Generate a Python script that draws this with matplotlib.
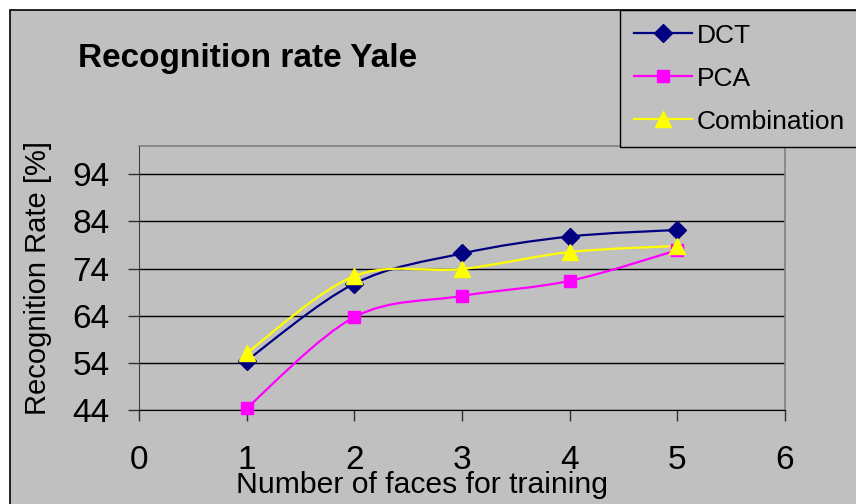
import matplotlib
matplotlib.use("Agg")
import matplotlib.pyplot as plt
from matplotlib.path import Path
from matplotlib.patches import PathPatch, Rectangle
from matplotlib.lines import Line2D
import numpy as np

plt.rcParams['font.family'] = ['Liberation Sans', 'DejaVu Sans']

# Recognition rates (%) by number of training faces
faces = [1, 2, 3, 4, 5]
dct = [54.5, 70.8, 77.2, 80.8, 82.2]
pca = [44.4, 63.7, 68.2, 71.4, 77.9]
combination = [56.1, 72.4, 73.9, 77.5, 78.8]
series_names = ["DCT", "PCA", "Combination"]
y_ticks = [44, 54, 64, 74, 84, 94]
x_ticks = [0, 1, 2, 3, 4, 5, 6]

GRAY = '#C0C0C0'


def smooth_path(xs, ys):
    """Bezier path through the points, spreadsheet-style smoothed line."""
    pts = np.column_stack([xs, ys]).astype(float)
    n = len(pts)
    verts = [pts[0]]
    codes = [Path.MOVETO]
    for i in range(n - 1):
        p0 = pts[i - 1] if i > 0 else pts[i]
        p1 = pts[i]
        p2 = pts[i + 1]
        p3 = pts[i + 2] if i + 2 < n else pts[i + 1]
        verts += [p1 + (p2 - p0) / 6, p2 - (p3 - p1) / 6, p2]
        codes += [Path.CURVE4] * 3
    return Path(verts, codes)


fig = plt.figure(figsize=(8.56, 5.04), dpi=100, facecolor='white')

# chart area
fig.patches.append(Rectangle((10 / 856, -0.05), 1.0, 1 - 10 / 504 + 0.05,
                             transform=fig.transFigure, facecolor=GRAY,
                             edgecolor='black', lw=1.2, zorder=-5))

ax = fig.add_axes([139 / 856, 94 / 504, 646 / 856, 264 / 504])
ax.set_zorder(1)
ax.set_facecolor(GRAY)
ax.set_xlim(0, 6)
ax.set_ylim(44, 100)
ax.set_xticks(x_ticks)
ax.set_yticks(y_ticks)
ax.tick_params(axis='both', labelsize=24, length=8, width=1, direction='out',
               color='#303030')
ax.tick_params(axis='y', pad=13)
ax.tick_params(axis='x', pad=17)
ax.yaxis.grid(True, color='black', lw=1.0)
ax.set_axisbelow(True)
for side in ('top', 'right'):
    ax.spines[side].set_color('#808080')
    ax.spines[side].set_linewidth(1.2)
ax.spines['left'].set_color('#404040')
ax.spines['bottom'].set_color('black')

styles = [
    (dct, '#000080', 'D', 9),
    (pca, '#FF00FF', 's', 9),
    (combination, '#FFFF00', '^', 11),
]
handles = []
for (vals, color, marker, ms), name in zip(styles, series_names):
    ax.add_patch(PathPatch(smooth_path(faces, vals), facecolor='none',
                           edgecolor=color, lw=1.6, zorder=3))
    ax.plot(faces, vals, linestyle='none', marker=marker, markersize=ms,
            color=color, markeredgecolor=color, zorder=4, clip_on=False)
    handles.append(Line2D([], [], color=color, lw=1.6, marker=marker,
                          markersize=ms, markeredgecolor=color))

ax.set_ylabel("Recognition Rate [%]", fontsize=21)
ax.yaxis.set_label_coords((52 - 139) / 646, 0.5)
fig.text(422 / 856, (504 - 493) / 504, "Number of faces for training",
         fontsize=21.7, ha='center', va='baseline', zorder=2)

fig.text(78 / 856, 1 - 67 / 504, "Recognition rate Yale", fontsize=24,
         fontweight='bold', va='baseline', zorder=2)

leg = fig.legend(handles, series_names, loc='upper left',
                 bbox_to_anchor=(620 / 856, 359 / 504, 240 / 856, 135 / 504),
                 mode='expand', borderaxespad=0, fontsize=19,
                 handlelength=2.2, handletextpad=0.2, labelspacing=0.72,
                 borderpad=0.52, fancybox=False, framealpha=1)
leg.set_zorder(3)
leg.get_frame().set_facecolor(GRAY)
leg.get_frame().set_edgecolor('black')
leg.get_frame().set_linewidth(1.0)

fig.savefig('out.png', dpi=100, facecolor='white')
